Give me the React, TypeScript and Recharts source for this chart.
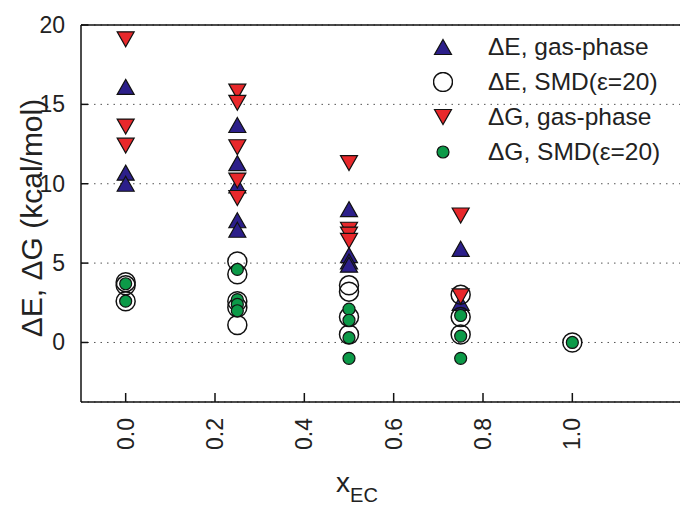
import React from "react";
import { ScatterChart, Scatter, XAxis, YAxis, CartesianGrid, ReferenceLine } from "recharts";

// EC mole fraction for each column of points
const xFractions = [0, 0.25, 0.5, 0.75, 1.0];

// energies (kcal/mol), one inner list per EC fraction
const dEGas = [[16.1, 10.7, 10.0], [13.7, 11.3, 9.9, 7.7, 7.1], [8.4, 5.5, 5.1, 4.9], [5.9, 2.5], []];
const dESmd = [[3.8, 3.6, 2.6], [5.1, 4.3, 2.6, 2.2, 1.1], [3.6, 3.2, 1.6, 0.5], [3.0, 1.6, 0.5], [0]];
const dGGas = [[19.1, 13.6, 12.4], [15.8, 15.1, 12.3, 10.2, 9.1], [11.3, 7.1, 6.8, 6.4], [8.0, 2.9], []];
const dGSmd = [[3.7, 2.6], [4.6, 2.7, 2.4, 2.0], [2.1, 1.4, 0.3, -1.0], [1.7, 0.4, -1.0], [0]];

const xTicks = [0, 0.2, 0.4, 0.6, 0.8, 1.0];
const yTicks = [0, 5, 10, 15, 20];

const FONT = "'Liberation Sans', Arial, sans-serif";

const toPoints = (cols: number[][]) =>
  cols.flatMap((ys, i) => ys.map((y) => ({ x: xFractions[i], y })));

const UpTriangle = ({ cx, cy }: any) => (
  <polygon
    points={`${cx},${cy - 7.5} ${cx + 8.5},${cy + 7.5} ${cx - 8.5},${cy + 7.5}`}
    fill="#2c1f8a"
    stroke="#111"
    strokeWidth={1.2}
  />
);

const DownTriangle = ({ cx, cy }: any) => (
  <polygon
    points={`${cx - 8.5},${cy - 7.5} ${cx + 8.5},${cy - 7.5} ${cx},${cy + 7.5}`}
    fill="#e8282b"
    stroke="#111"
    strokeWidth={1.2}
  />
);

const OpenCircle = ({ cx, cy }: any) => (
  <circle cx={cx} cy={cy} r={9.5} fill="none" stroke="#111" strokeWidth={1.5} />
);

const GreenDot = ({ cx, cy }: any) => (
  <circle cx={cx} cy={cy} r={6} fill="#0c9a48" stroke="#111" strokeWidth={1.2} />
);

const series = [
  { name: "\u0394E, gas-phase", data: toPoints(dEGas), Shape: UpTriangle },
  { name: "\u0394E, SMD(\u03b5=20)", data: toPoints(dESmd), Shape: OpenCircle },
  { name: "\u0394G, gas-phase", data: toPoints(dGGas), Shape: DownTriangle },
  { name: "\u0394G, SMD(\u03b5=20)", data: toPoints(dGSmd), Shape: GreenDot },
];

const XTick = ({ x, y, payload }: any) => (
  <g>
    <line x1={x} x2={x} y1={y} y2={y - 9} stroke="#111" strokeWidth={1.5} />
    <text
      x={x}
      y={y + 16}
      transform={`rotate(-90, ${x}, ${y + 16})`}
      textAnchor="end"
      dominantBaseline="central"
      fontFamily={FONT}
      fontSize={23}
      fill="#222"
    >
      {payload.value.toFixed(1)}
    </text>
  </g>
);

const YTick = ({ x, y, payload }: any) => (
  <g>
    <line x1={x} x2={x + 7} y1={y} y2={y} stroke="#111" strokeWidth={1.5} />
    <text x={x - 16} y={y} textAnchor="end" dominantBaseline="central" fontFamily={FONT} fontSize={23} fill="#222">
      {payload.value}
    </text>
  </g>
);

const XTitle = () => (
  <text x={357} y={492} textAnchor="middle" fontFamily={FONT} fontSize={28} fill="#222">
    x
    <tspan fontSize={20} dy={10}>
      EC
    </tspan>
  </text>
);

const YTitle = () => (
  <text
    x={42}
    y={218}
    transform="rotate(-90, 42, 218)"
    textAnchor="middle"
    fontFamily={FONT}
    fontSize={30}
    fill="#222"
  >
    {"\u0394E, \u0394G (kcal/mol)"}
  </text>
);

export default function App() {
  return (
    <div style={{ position: "absolute", left: 0, top: 0, width: 680, height: 506, overflow: "hidden", background: "#fff" }}>
      <ScatterChart width={684} height={506} margin={{ top: 25, right: 0, bottom: 0, left: 0 }}>
        <CartesianGrid horizontal vertical={false} stroke="#555" strokeDasharray="1.5 5" />
        <XAxis
          type="number"
          dataKey="x"
          domain={[-0.1, 1.25]}
          ticks={xTicks}
          allowDataOverflow
          height={104}
          tickSize={0}
          tickMargin={0}
          tickLine={false}
          axisLine={{ stroke: "#111", strokeWidth: 1.5 }}
          tick={<XTick />}
          label={<XTitle />}
        />
        <YAxis
          type="number"
          dataKey="y"
          domain={[-3.75, 20]}
          ticks={yTicks}
          allowDataOverflow
          width={81}
          tickSize={0}
          tickMargin={0}
          tickLine={false}
          axisLine={{ stroke: "#111", strokeWidth: 1.5 }}
          tick={<YTick />}
          label={<YTitle />}
        />
        <ReferenceLine y={20} stroke="#111" strokeWidth={1.5} />
        {series.map((s) => (
          <Scatter
            key={s.name}
            name={s.name}
            data={s.data}
            isAnimationActive={false}
            shape={(p: any) => <s.Shape cx={p.cx} cy={p.cy} />}
          />
        ))}
      </ScatterChart>
      <div style={{ position: "absolute", left: 433, top: 29.5, fontFamily: FONT, fontSize: 24.5, color: "#222" }}>
        {series.map((s) => (
          <div key={s.name} style={{ display: "flex", alignItems: "center", height: 35 }}>
            <svg width={20} height={20} style={{ marginRight: 35 }}>
              <s.Shape cx={10} cy={10} />
            </svg>
            <span style={{ whiteSpace: "nowrap" }}>{s.name}</span>
          </div>
        ))}
      </div>
    </div>
  );
}
